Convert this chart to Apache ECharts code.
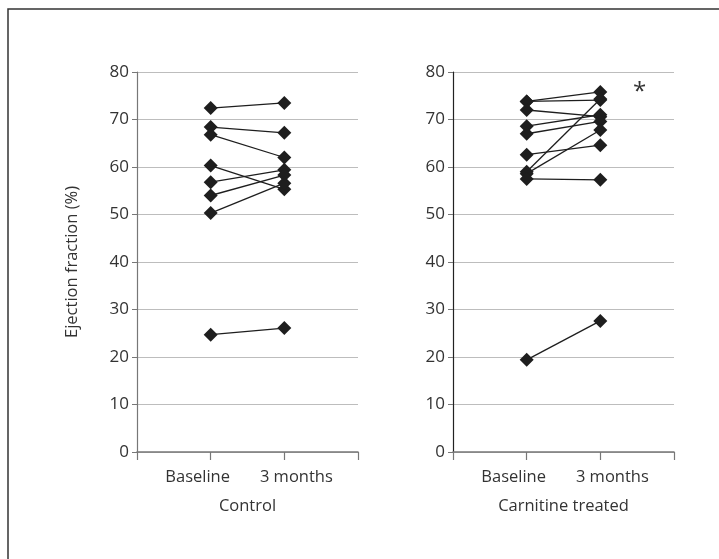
<!DOCTYPE html>
<html>
<head>
<meta charset="utf-8">
<script src="https://cdn.jsdelivr.net/npm/echarts@6/dist/echarts.min.js"></script>
<style>
html,body{margin:0;padding:0;background:#fff;}
#chart{width:719px;height:559px;}
</style>
</head>
<body>
<div id="chart"></div>
<script>
// tick labels / categories
var timePoints = ['Baseline', '3 months'];
var groupNames = ['Control', 'Carnitine treated'];
var yTicks = [0, 10, 20, 30, 40, 50, 60, 70, 80];

// ejection fraction (%) per patient
var controlBaseline = [72.4, 68.4, 66.8, 60.3, 56.8, 54.0, 50.3, 24.7];
var controlMonth3   = [73.5, 67.2, 62.0, 55.3, 59.4, 58.3, 56.6, 26.1];
var carnitineBaseline = [73.8, 73.8, 72.0, 68.6, 67.0, 62.6, 59.0, 58.6, 57.5, 19.4];
var carnitineMonth3   = [75.8, 74.1, 70.6, 71.0, 69.6, 64.6, 74.3, 67.8, 57.3, 27.6];

var fontFam = '"Open Sans", "Noto Sans", sans-serif';
var fs = 16.5;

function pairSeries(base, after, gi) {
    var out = [];
    for (var i = 0; i < base.length; i++) {
        out.push({
            type: 'line',
            xAxisIndex: gi,
            yAxisIndex: gi,
            symbol: 'diamond',
            symbolSize: [14, 14],
            itemStyle: {color: '#1e1e1e'},
            lineStyle: {color: '#1e1e1e', width: 1.3},
            silent: true,
            data: [[1, base[i]], [2, after[i]]]
        });
    }
    return out;
}

function xAx(gi) {
    return {
        type: 'value',
        gridIndex: gi,
        min: 0, max: 3, interval: 1,
        name: groupNames[gi],
        nameLocation: 'middle',
        nameGap: 46,
        nameTextStyle: {fontFamily: fontFam, fontSize: fs, color: '#333'},
        axisLine: {onZero: false, lineStyle: {color: '#777', width: 1.5}},
        axisTick: {show: true, length: 8, lineStyle: {color: '#777', width: 1.2}},
        splitLine: {show: false},
        axisLabel: {
            margin: 17,
            fontFamily: fontFam, fontSize: fs, color: '#333',
            formatter: function (v) {
                if (v === 1) return '{a|' + timePoints[0] + '}';
                if (v === 2) return '{b|' + timePoints[1] + '}';
                return '';
            },
            rich: {
                a: {fontFamily: fontFam, fontSize: fs, color: '#333', padding: [0, 26, 0, 0]},
                b: {fontFamily: fontFam, fontSize: fs, color: '#333', padding: [0, 0, 0, 24]}
            }
        }
    };
}

function yAx(gi) {
    var ax = {
        type: 'value',
        gridIndex: gi,
        min: yTicks[0], max: yTicks[yTicks.length - 1], interval: 10,
        axisLine: {show: true, lineStyle: {color: gi === 0 ? '#777' : '#222', width: 1.2}},
        axisTick: {show: true, length: 5, lineStyle: {color: '#777'}},
        splitLine: {show: true, lineStyle: {color: '#bdbdbd', width: 1.2}},
        axisLabel: {margin: 8, fontFamily: fontFam, fontSize: 17, color: '#333'}
    };
    if (gi === 0) {
        ax.name = 'Ejection fraction (%)';
        ax.nameLocation = 'middle';
        ax.nameGap = 56;
        ax.nameTextStyle = {fontFamily: fontFam, fontSize: fs, color: '#333'};
    }
    return ax;
}

var myChart = echarts.init(document.getElementById('chart'));
var option = {
    animation: false,
    backgroundColor: '#fff',
    grid: [
        {left: 137, top: 72, width: 221, height: 380},
        {left: 453, top: 72, width: 221, height: 380}
    ],
    xAxis: [xAx(0), xAx(1)],
    yAxis: [yAx(0), yAx(1)],
    graphic: [
        {
            type: 'rect',
            shape: {x: 8, y: 9, width: 800, height: 700},
            style: {fill: 'none', stroke: '#333', lineWidth: 1.5},
            silent: true
        },
        {
            type: 'text',
            left: 633, top: 80,
            style: {text: '*', font: '24px ' + fontFam, fill: '#333'}
        }
    ],
    series: pairSeries(controlBaseline, controlMonth3, 0).concat(pairSeries(carnitineBaseline, carnitineMonth3, 1))
};
myChart.setOption(option);
</script>
</body>
</html>
